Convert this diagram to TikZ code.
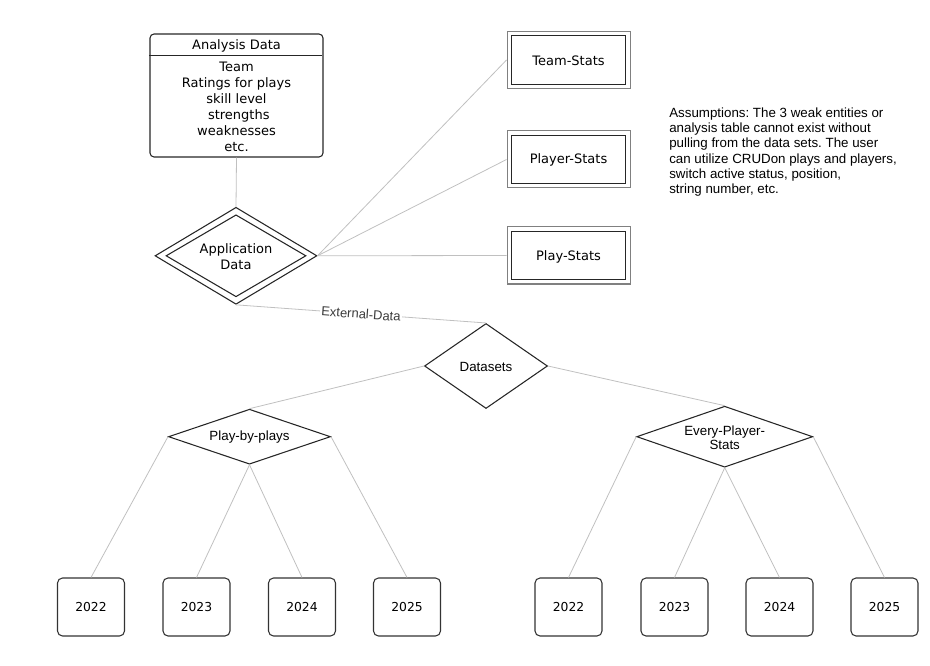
\documentclass[tikz,border=0pt]{standalone}
\usepackage{fontspec}
\setmainfont{DejaVu Sans}
\newfontfamily\arialf{Liberation Sans}
\usetikzlibrary{shapes.geometric,calc}
\frenchspacing
\definecolor{edgegray}{RGB}{192,192,192}
\definecolor{textgray}{RGB}{60,60,60}
\tikzset{
  conn/.style={draw=edgegray, line width=0.6pt},
  dia/.style={diamond, draw=black!85, line width=0.8pt, inner sep=0pt, aspect=1},
  vtext/.style={font=\fontsize{9.75pt}{12pt}\selectfont, align=center, inner sep=0pt},
  atext/.style={font=\arialf\fontsize{10pt}{10.5pt}\selectfont, align=center, inner sep=0pt},
  dbox/.style={rectangle, draw=black!50, line width=0.75pt, minimum width=92.25pt, minimum height=42.75pt, inner sep=0pt},
  dboxin/.style={rectangle, draw=black!85, line width=0.75pt, minimum width=85pt, minimum height=36.5pt, inner sep=0pt, font=\fontsize{9.75pt}{12pt}\selectfont},
  yearbox/.style={rectangle, rounded corners=3.75pt, draw=black!80, line width=0.8pt, minimum width=50.25pt, minimum height=43.5pt, inner sep=0pt, font=\fontsize{9.25pt}{11pt}\selectfont},
}
\begin{document}
\begin{tikzpicture}[x=0.75pt, y=-0.75pt]
\useasboundingbox (0,0) rectangle (930,666);

% Analysis Data table
\node[draw=black!85, line width=0.8pt, rounded corners=3pt, minimum width=129.75pt, minimum height=92.25pt, inner sep=0pt] (ad) at (236.5,95.5) {};
\draw[black!85, line width=0.8pt] (ad.north west) ++(0,22) -- ++(173,0);
\node[vtext] (adtitle) at (236.5,45.5) {Analysis Data};
\node[vtext] (adbody) at (236.5,107) {Team\\Ratings for plays\\skill level\hspace*{0.35em}\\\hspace*{0.35em}strengths\\weaknesses\\etc.};

% Application Data double diamond
\node[dia, minimum width=121.5pt, minimum height=72.75pt] (ap) at (236,255.8) {};
\node[dia, minimum width=105pt, minimum height=61.5pt] (apin) at (236,255.8) {};
\node[vtext] (aptext) at (236,257) {Application\\Data};

% weak entities
\node[dbox] (ts) at (568.5,60) {};
\node[dboxin] (tsin) at (568.5,60) {};
\node[vtext] (tstext) at (568.5,61) {Team-Stats};
\node[dbox] (ps) at (568.5,159.5) {};
\node[dboxin] (psin) at (568.5,159.5) {};
\node[vtext] (pstext) at (568.5,159.5) {Player-Stats};
\node[dbox] (pls) at (568.5,255.5) {};
\node[dboxin] (plsin) at (568.5,255.5) {};
\node[vtext] (plstext) at (568.5,256.5) {Play-Stats};

% assumptions
\node[atext, align=left, anchor=north west, font=\arialf\fontsize{10pt}{11.4pt}\selectfont] (asm) at (669,107.5) {Assumptions: The 3 weak entities or\\analysis table cannot exist without\\pulling from the data sets. The user\\can utilize CRUDon plays and players,\\switch active status, position,\\string number, etc.};

% Datasets and sub-diamonds
\node[dia, minimum width=92.25pt, minimum height=63.75pt] (ds) at (486,366) {};
\node[atext] (dstext) at (486,366.5) {Datasets};
\node[dia, minimum width=121.5pt, minimum height=41.25pt] (pbp) at (249.5,436.7) {};
\node[atext] (pbptext) at (249.5,437.5) {Play-by-plays};
\node[dia, minimum width=132pt, minimum height=45.75pt] (eps) at (724.7,436.7) {};
\node[atext] (epstext) at (724.7,437.5) {Every-Player-\\Stats};

% year boxes
\node[yearbox] (l1) at (91,607) {2022};
\node[yearbox] (l2) at (196.5,607) {2023};
\node[yearbox] (l3) at (302,607) {2024};
\node[yearbox] (l4) at (407,607) {2025};
\node[yearbox] (r1) at (568.5,607) {2022};
\node[yearbox] (r2) at (674.5,607) {2023};
\node[yearbox] (r3) at (779.5,607) {2024};
\node[yearbox] (r4) at (884.5,607) {2025};

% connectors
\draw[conn] (ad.south) -- (ap.north);
\draw[conn] (ap.east) -- (ts.west);
\draw[conn] (ap.east) -- (ps.west);
\draw[conn] (ap.east) -- (pls.west);
\draw[conn] (ap.south) -- node[sloped, fill=white, inner sep=1pt, text=textgray, font=\arialf\fontsize{9.75pt}{11pt}\selectfont] (extlabel) {External-Data} (ds.north);
\draw[conn] (ds.west) -- (pbp.north);
\draw[conn] (ds.east) -- (eps.north);
\draw[conn] (pbp.west) -- (l1.north);
\draw[conn] (pbp.south) -- (l2.north);
\draw[conn] (pbp.south) -- (l3.north);
\draw[conn] (pbp.east) -- (l4.north);
\draw[conn] (eps.west) -- (r1.north);
\draw[conn] (eps.south) -- (r2.north);
\draw[conn] (eps.south) -- (r3.north);
\draw[conn] (eps.east) -- (r4.north);
\end{tikzpicture}
\end{document}
